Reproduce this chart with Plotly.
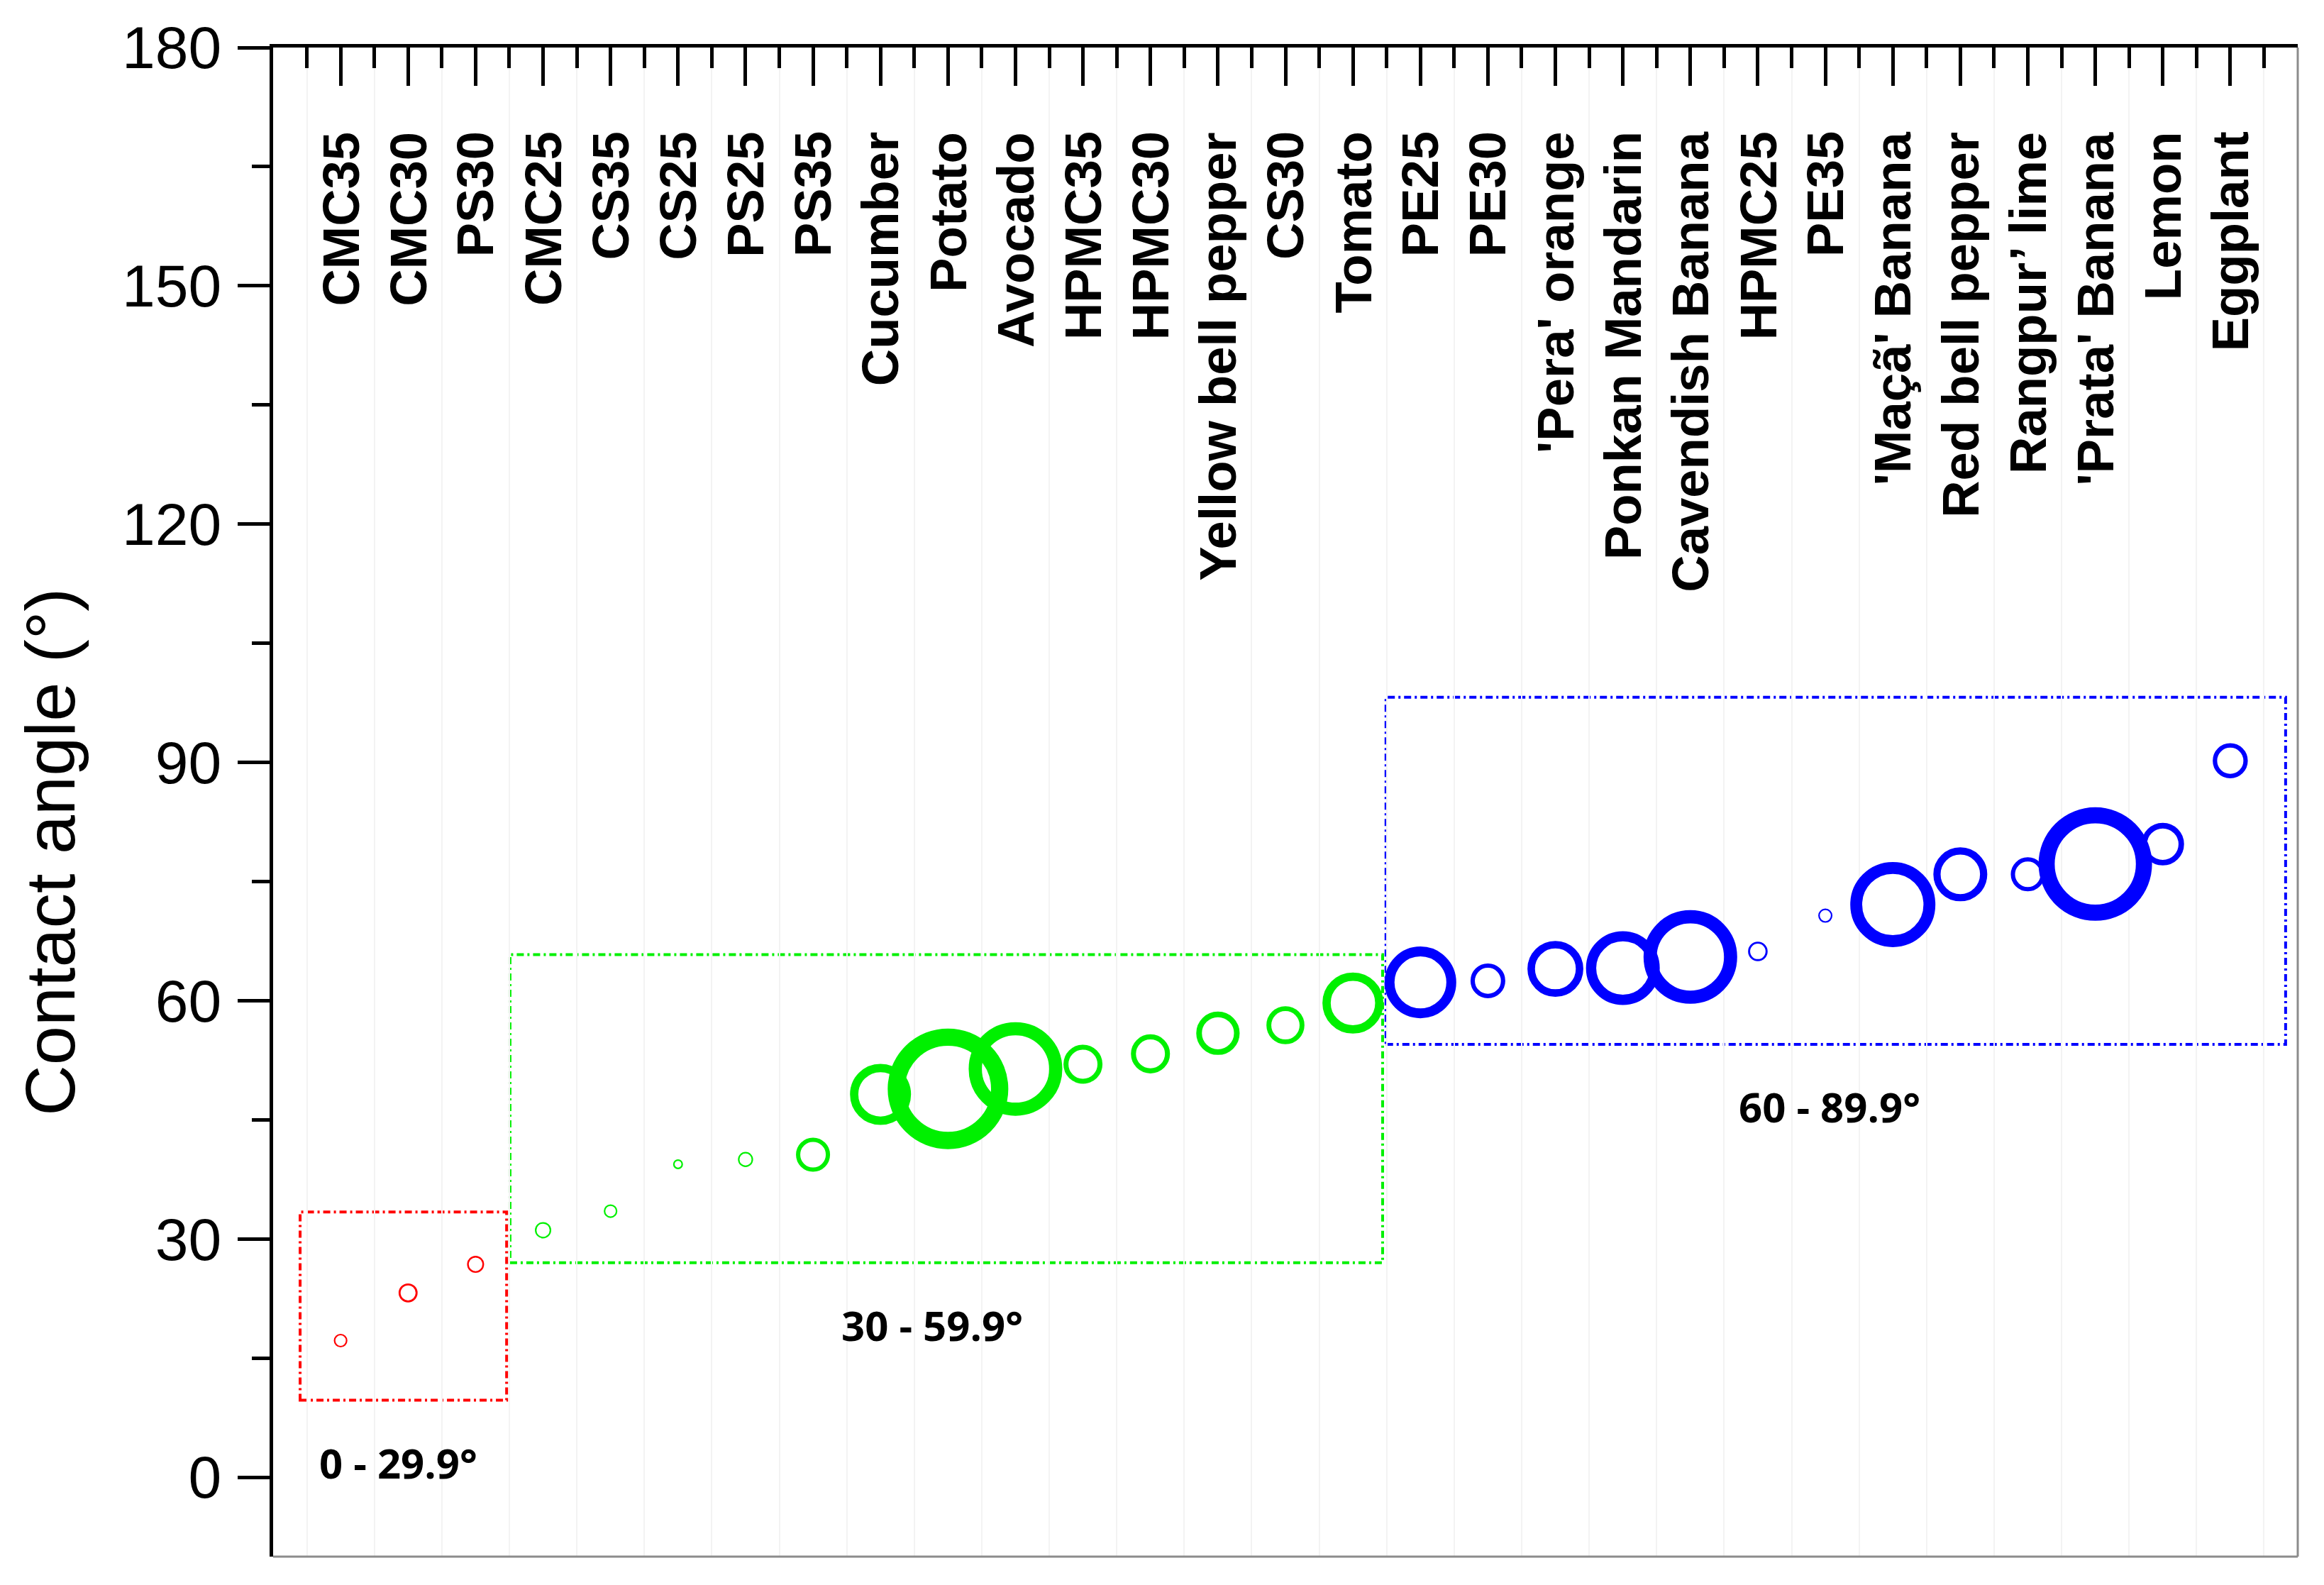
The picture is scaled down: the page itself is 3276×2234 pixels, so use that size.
import plotly.graph_objects as go

# ---------------- data ----------------
categories = ["CMC35", "CMC30", "PS30", "CMC25", "CS35", "CS25", "PS25", "PS35",
              "Cucumber", "Potato", "Avocado", "HPMC35", "HPMC30", "Yellow bell pepper",
              "CS30", "Tomato", "PE25", "PE30", "'Pera' orange", "Ponkan Mandarin",
              "Cavendish Banana", "HPMC25", "PE35", "'Maçã' Banana", "Red bell pepper",
              "Rangpur’ lime", "'Prata' Banana", "Lemon", "Eggplant"]

contact_angle = [17.2, 23.2, 26.8, 31.1, 33.5, 39.4, 40.0, 40.6,
                 48.2, 48.9, 51.4, 52.0, 53.3, 55.9,
                 56.9, 59.7, 62.3, 62.5, 64.0, 64.1,
                 65.5, 66.2, 70.7, 72.1, 75.9,
                 75.9, 77.2, 79.7, 90.2]

# relative bubble magnitude
bubble_value = [9.6, 13.4, 12.0, 11.5, 9.6, 7.0, 10.7, 24.0,
                43.0, 85.0, 66.0, 27.5, 27.5, 30.6,
                26.8, 43.0, 50.5, 24.5, 39.4, 52.0,
                66.0, 13.8, 10.0, 60.0, 38.0,
                24.0, 80.0, 30.0, 24.7]

groups = [("0 - 29.9°", 0, 3, "#ff0000"),
          ("30 - 59.9°", 3, 16, "#00f000"),
          ("60 - 89.9°", 16, 29, "#0000ff")]

group_boxes = {  # x0, x1, y0, y1 in data units
    "0 - 29.9°": (-0.6, 2.46, 9.7, 33.4),
    "30 - 59.9°": (2.51, 15.44, 27.0, 65.8),
    "60 - 89.9°": (15.49, 28.82, 54.5, 98.2),
}
group_label_pos = {
    "0 - 29.9°": (0.85, 1.8),
    "30 - 59.9°": (8.76, 19.2),
    "60 - 89.9°": (22.06, 46.7),
}

y_ticks = [0, 30, 60, 90, 120, 150, 180]

# ---------------- figure ----------------
W, H = 3276, 2234
fig = go.Figure()

xs = list(range(len(categories)))

for name, a, b, col in groups:
    lw = [max(2.2, 0.3 * v - 1.2) for v in bubble_value[a:b]]
    sz = [2 * v - w for v, w in zip(bubble_value[a:b], lw)]
    fig.add_trace(go.Scatter(
        x=xs[a:b], y=contact_angle[a:b], mode="markers", name=name,
        text=categories[a:b],
        marker=dict(symbol="circle", size=sz, sizemode="diameter", opacity=1,
                    color="rgba(0,0,0,0)",
                    line=dict(color=col, width=lw)),
        showlegend=False,
    ))

shapes = []
for name, a, b, col in groups:
    x0, x1, y0, y1 = group_boxes[name]
    shapes.append(dict(type="rect", xref="x", yref="y", x0=x0, x1=x1, y0=y0, y1=y1,
                       line=dict(color=col, width=4, dash="10px,5px,3px,5px"),
                       fillcolor="rgba(0,0,0,0)", layer="below"))
# thin grey bottom and right frame
shapes.append(dict(type="line", xref="paper", yref="paper", x0=0, x1=1, y0=0, y1=0,
                   line=dict(color="#8c8c8c", width=3)))
shapes.append(dict(type="line", xref="paper", yref="paper", x0=1, x1=1, y0=0, y1=1,
                   line=dict(color="#8c8c8c", width=3)))

annotations = []
for i, c in enumerate(categories):
    annotations.append(dict(x=i, y=169.6, xref="x", yref="y", text=c, showarrow=False,
                            textangle=-90, xanchor="center", yanchor="top",
                            font=dict(family="Liberation Sans, Arial", size=72.5,
                                      color="black", weight="bold")))
for name, a, b, col in groups:
    gx, gy = group_label_pos[name]
    annotations.append(dict(x=gx, y=gy, xref="x", yref="y", text="<b>%s</b>" % name,
                            showarrow=False, xanchor="center", yanchor="middle",
                            font=dict(family="Open Sans", size=58, color="black")))
annotations.append(dict(x=-0.1105, y=78.7, xref="paper", yref="y",
                        text="Contact angle (°)", showarrow=False, textangle=-90,
                        xanchor="center", yanchor="middle",
                        font=dict(family="Liberation Sans, Arial", size=99, color="black")))

fig.update_layout(
    width=W, height=H,
    margin=dict(l=377, r=45, t=56, b=48),
    paper_bgcolor="white", plot_bgcolor="white",
    shapes=shapes, annotations=annotations,
    xaxis=dict(type="linear", range=[-1, 29], side="top",
               showline=True, linecolor="black", linewidth=5,
               ticks="inside", ticklen=54, tickwidth=5, tickcolor="black",
               tickvals=xs, showticklabels=False, showgrid=False, zeroline=False,
               minor=dict(ticks="inside", ticklen=29, tickwidth=5, tickcolor="black",
                          tick0=0.5, dtick=1, showgrid=True,
                          gridcolor="#f3f3f3", gridwidth=2)),
    yaxis=dict(range=[-10, 180], showline=True, linecolor="black", linewidth=5,
               ticks="outside", ticklen=45, tickwidth=5, tickcolor="black",
               tickvals=y_ticks, ticktext=[str(v) for v in y_ticks],
               tickfont=dict(family="Liberation Sans, Arial", size=84, color="black"),
               ticklabelstandoff=6,
               showgrid=False, zeroline=False,
               minor=dict(ticks="outside", ticklen=25, tickwidth=5, tickcolor="black",
                          tick0=15, dtick=30, showgrid=False)),
)

fig.write_html("out.html")
